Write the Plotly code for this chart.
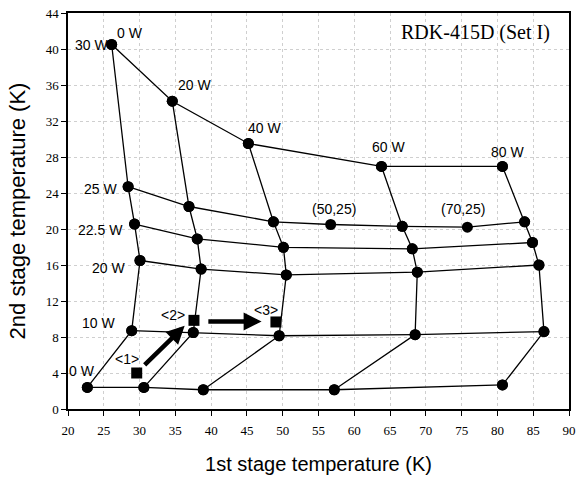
import plotly.graph_objects as go

# Columns of constant 1st-stage load (0, 20, 40, 60, 80 W); rows ordered by 2nd-stage load 30,25,22.5,20,10,0 W
row_loads = ["30 W", "25 W", "22.5 W", "20 W", "10 W", "0 W"]
col_loads = ["0 W", "20 W", "40 W", "60 W", "80 W"]
col0_x = [26.1, 28.4, 29.3, 30.06, 28.9, 22.7]
col0_y = [40.5, 24.7, 20.55, 16.5, 8.7, 2.4]
col20_x = [34.57, 36.9, 38.06, 38.6, 37.5, 30.6]
col20_y = [34.2, 22.5, 18.9, 15.55, 8.5, 2.4]
col40_x = [45.2, 48.7, 50.1, 50.5, 49.5, 38.9]
col40_y = [29.5, 20.8, 17.96, 14.9, 8.14, 2.14]
col60_x = [63.8, 66.7, 68.1, 68.8, 68.5, 57.2]
col60_y = [26.95, 20.3, 17.8, 15.2, 8.26, 2.14]
col80_x = [80.7, 83.8, 84.9, 85.8, 86.5, 80.7]
col80_y = [26.95, 20.8, 18.5, 16.0, 8.6, 2.67]

# extra points on the 25 W row
extra_labels = ["(50,25)", "(70,25)"]
extra_x = [56.7, 75.8]
extra_y = [20.5, 20.2]

# operating points <1>, <2>, <3>
op_labels = ["<1>", "<2>", "<3>"]
op_x = [29.6, 37.6, 49.05]
op_y = [4.0, 9.85, 9.67]

cols_x = [col0_x, col20_x, col40_x, col60_x, col80_x]
cols_y = [col0_y, col20_y, col40_y, col60_y, col80_y]

fig = go.Figure()
line_style = dict(color="black", width=1.3)
marker_style = dict(color="black", size=11)

# column lines
for cx, cy in zip(cols_x, cols_y):
    fig.add_trace(go.Scatter(x=cx, y=cy, mode="lines+markers", line=line_style,
                             marker=marker_style, showlegend=False, hoverinfo="skip"))
# row lines
for i in range(len(row_loads)):
    rx = [c[i] for c in cols_x]
    ry = [c[i] for c in cols_y]
    if row_loads[i] == "25 W":
        rx = rx[:3] + [extra_x[0], rx[3], extra_x[1], rx[4]]
        ry = ry[:3] + [extra_y[0], ry[3], extra_y[1], ry[4]]
    fig.add_trace(go.Scatter(x=rx, y=ry, mode="lines+markers", line=line_style,
                             marker=marker_style, showlegend=False, hoverinfo="skip"))

fig.add_trace(go.Scatter(x=op_x, y=op_y, mode="markers",
                         marker=dict(color="black", size=11, symbol="square"),
                         showlegend=False, hoverinfo="skip"))

sans = "Liberation Sans, Arial, sans-serif"
serif = "Liberation Serif, Times New Roman, serif"
lab_font = dict(family=sans, size=14, color="black")

# text labels (text, x, y, xanchor)
labels = [
    ("30 W", 25.8, 40.5, "right"),
    ("0 W", 26.6, 41.8, "left"),
    ("20 W", 37.7, 36.0, "center"),
    ("40 W", 47.4, 31.25, "center"),
    ("60 W", 64.8, 29.1, "center"),
    ("80 W", 81.4, 28.6, "center"),
    (extra_labels[0], 57.2, 22.25, "center"),
    (extra_labels[1], 75.2, 22.25, "center"),
    ("25 W", 27.1, 24.5, "right"),
    ("22.5 W", 28.0, 19.9, "right"),
    ("20 W", 28.3, 15.7, "right"),
    ("10 W", 26.9, 9.6, "right"),
    ("0 W", 24.1, 4.26, "right"),
    (op_labels[0], 28.3, 5.6, "center"),
    (op_labels[1], 34.7, 10.5, "center"),
    (op_labels[2], 47.7, 11.0, "center"),
]
for t, x, y, xa in labels:
    fig.add_annotation(x=x, y=y, text=t, showarrow=False, xanchor=xa, yanchor="middle",
                       font=lab_font)

fig.add_annotation(x=77.0, y=41.8, text="RDK-415D (Set I)", showarrow=False,
                   font=dict(family=serif, size=20, color="black"))

# arrows
fig.add_annotation(x=36.3, y=9.25, ax=30.5, ay=4.73, xref="x", yref="y", axref="x", ayref="y",
                   showarrow=True, arrowhead=2, arrowsize=0.8, arrowwidth=4.5, arrowcolor="black", text="")
fig.add_annotation(x=47.05, y=9.73, ax=39.4, ay=9.73, xref="x", yref="y", axref="x", ayref="y",
                   showarrow=True, arrowhead=2, arrowsize=0.8, arrowwidth=4.5, arrowcolor="black", text="")

axis_common = dict(showline=True, linecolor="black", linewidth=1.5, mirror=True,
                   ticks="outside", ticklen=5, tickcolor="black", tickwidth=1.2,
                   showgrid=True, gridcolor="#cfcfcf", griddash="dot", gridwidth=1,
                   zeroline=False, automargin=False,
                   tickfont=dict(family=serif, size=13, color="black"))
fig.update_xaxes(range=[20, 90], dtick=5, tick0=20, ticklabelstandoff=4,
                 title=dict(text="1st stage temperature (K)", font=dict(family=sans, size=20, color="black"), standoff=20),
                 **axis_common)
fig.update_yaxes(range=[0, 44], dtick=4, tick0=0,
                 title=dict(text="2nd stage temperature (K)", font=dict(family=sans, size=22, color="black"), standoff=14),
                 **axis_common)

fig.update_layout(width=578, height=479, margin=dict(l=68, r=9, t=13, b=70),
                  plot_bgcolor="white", paper_bgcolor="white")

fig.write_html("out.html")
